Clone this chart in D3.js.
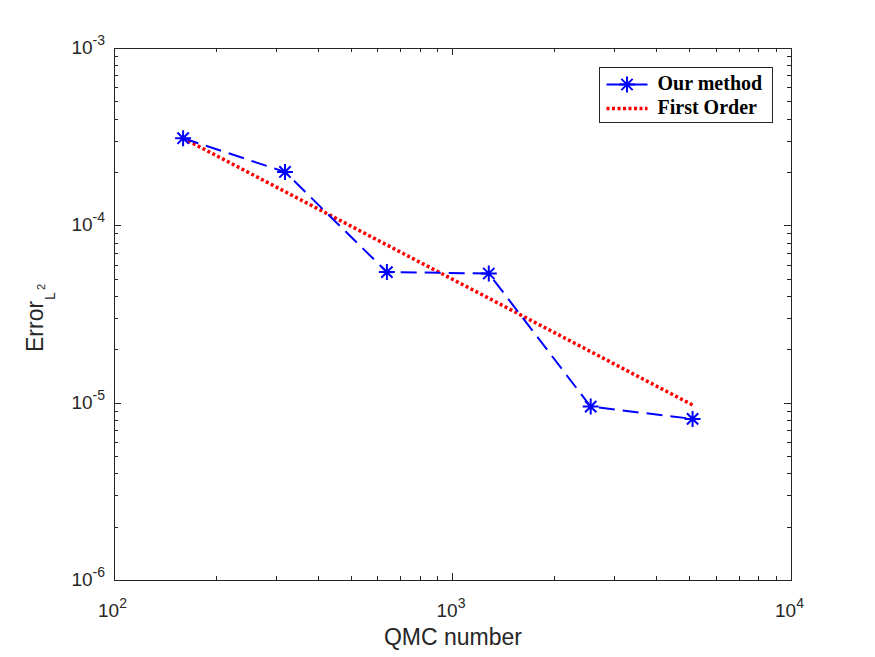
<!DOCTYPE html>
<html>
<meta charset="utf-8">
<head>
<script src="https://d3js.org/d3.v7.min.js"></script>
<style>
    body { margin: 0; background: #fff; }
</style>
</head>
<body>
<script>
// data
var qmc = [160, 320, 640, 1280, 2560, 5120];
var ourMethod = [3.1e-4, 2.0e-4, 5.45e-5, 5.35e-5, 9.5e-6, 8.1e-6];
var firstOrder = [3.1e-4, 1.55e-4, 7.75e-5, 3.88e-5, 1.94e-5, 9.7e-6];
var xTicks = [1e2, 1e3, 1e4];
var yTicks = [1e-6, 1e-5, 1e-4, 1e-3];
var legendNames = ["Our method", "First Order"];

var W = 875, H = 657;
var margin = {top: 48, right: 84, bottom: 77, left: 114};
var width = W - margin.left - margin.right,
    height = H - margin.top - margin.bottom;
var axisCol = "#262626";
var sans = "'Liberation Sans', Arial, sans-serif";

var svg = d3.select("body").append("svg")
    .attr("width", W).attr("height", H);
var g = svg.append("g")
    .attr("transform", "translate(" + margin.left + "," + margin.top + ")");

var x = d3.scaleLog().domain([1e2, 1e4]).range([0, width]);
var y = d3.scaleLog().domain([1e-6, 1e-3]).range([height, 0]);

// minor ticks
var xMinor = [], yMinor = [];
[1e2, 1e3].forEach(function(d) { for (var k = 2; k < 10; k++) xMinor.push(d * k); });
[1e-6, 1e-5, 1e-4].forEach(function(d) { for (var k = 2; k < 10; k++) yMinor.push(d * k); });

var ax = g.append("g").attr("stroke", axisCol).attr("stroke-width", 1);
// box
ax.append("rect").attr("x", 0.5).attr("y", 0.5).attr("width", width).attr("height", height)
    .attr("fill", "none");

function tickX(vals, len) {
    vals.forEach(function(v) {
        var px = Math.round(x(v)) + 0.5;
        ax.append("line").attr("x1", px).attr("x2", px).attr("y1", height).attr("y2", height - len);
        ax.append("line").attr("x1", px).attr("x2", px).attr("y1", 0).attr("y2", len);
    });
}
function tickY(vals, len) {
    vals.forEach(function(v) {
        var py = Math.round(y(v)) + 0.5;
        ax.append("line").attr("y1", py).attr("y2", py).attr("x1", 0).attr("x2", len);
        ax.append("line").attr("y1", py).attr("y2", py).attr("x1", width).attr("x2", width - len);
    });
}
tickX(xTicks, 7); tickX(xMinor, 4);
tickY(yTicks, 7); tickY(yMinor, 4);

// tick labels
function expLabel(sel, base, ex) {
    sel.append("tspan").text(base);
    sel.append("tspan").attr("dy", -9).attr("font-size", 14).text(ex);
}
xTicks.forEach(function(v) {
    var t = g.append("text").attr("x", x(v) - 1.5).attr("y", height + 37)
        .attr("text-anchor", "middle").attr("font-family", sans)
        .attr("font-size", 19).attr("fill", axisCol);
    expLabel(t, "10", Math.round(Math.log10(v)));
});
yTicks.forEach(function(v) {
    var t = g.append("text").attr("x", -9).attr("y", y(v) + 6)
        .attr("text-anchor", "end").attr("font-family", sans)
        .attr("font-size", 19).attr("fill", axisCol);
    expLabel(t, "10", Math.round(Math.log10(v)));
});

// axis labels
g.append("text").attr("x", width / 2 + 0.5).attr("y", height + 65)
    .attr("text-anchor", "middle").attr("font-family", sans)
    .attr("font-size", 23).attr("fill", axisCol)
    .text("QMC number");
var yl = svg.append("text").attr("transform", "translate(43,352) rotate(-90)")
    .attr("font-family", sans).attr("font-size", 23).attr("fill", axisCol);
yl.append("tspan").text("Error");
yl.append("tspan").attr("dy", 12).attr("dx", 1).attr("font-size", 14).text("L");
yl.append("tspan").attr("dy", -10).attr("dx", 2).attr("font-size", 11).text("2");

var line = d3.line()
    .x(function(d) { return x(d[0]); })
    .y(function(d) { return y(d[1]); });

// first order reference line
g.append("path")
    .datum(qmc.map(function(q, i) { return [q, firstOrder[i]]; }))
    .attr("fill", "none").attr("stroke", "#ff0000").attr("stroke-width", 3.5)
    .attr("stroke-dasharray", "3,2.5").attr("d", line);

// our method
var ours = qmc.map(function(q, i) { return [q, ourMethod[i]]; });
g.append("path").datum(ours)
    .attr("fill", "none").attr("stroke", "#0000ff").attr("stroke-width", 2)
    .attr("stroke-dasharray", "16,8").attr("d", line);

function asterisk(sel, cx, cy, r) {
    var d = r * Math.SQRT1_2;
    var p = "M" + (cx - r) + "," + cy + "H" + (cx + r) +
        "M" + cx + "," + (cy - r) + "V" + (cy + r) +
        "M" + (cx - d) + "," + (cy - d) + "L" + (cx + d) + "," + (cy + d) +
        "M" + (cx - d) + "," + (cy + d) + "L" + (cx + d) + "," + (cy - d);
    sel.append("path").attr("d", p).attr("stroke", "#0000ff").attr("stroke-width", 2).attr("fill", "none");
}
ours.forEach(function(d) { asterisk(g, x(d[0]), y(d[1]), 8); });

// legend
var lg = svg.append("g").attr("transform", "translate(599.5,67.5)");
lg.append("rect").attr("width", 173).attr("height", 55)
    .attr("fill", "#fff").attr("stroke", axisCol).attr("stroke-width", 1);
lg.append("line").attr("x1", 7).attr("x2", 48).attr("y1", 17).attr("y2", 17)
    .attr("stroke", "#0000ff").attr("stroke-width", 2);
asterisk(lg, 27.5, 17, 8);
lg.append("line").attr("x1", 7).attr("x2", 48).attr("y1", 41).attr("y2", 41)
    .attr("stroke", "#ff0000").attr("stroke-width", 3.5).attr("stroke-dasharray", "3,2.5");
legendNames.forEach(function(n, i) {
    lg.append("text").attr("x", 58).attr("y", 22.5 + i * 24)
        .attr("font-family", "'Liberation Serif', 'Times New Roman', serif")
        .attr("font-weight", "bold").attr("font-size", 20).attr("fill", "#000").text(n);
});
</script>
</body>
</html>
